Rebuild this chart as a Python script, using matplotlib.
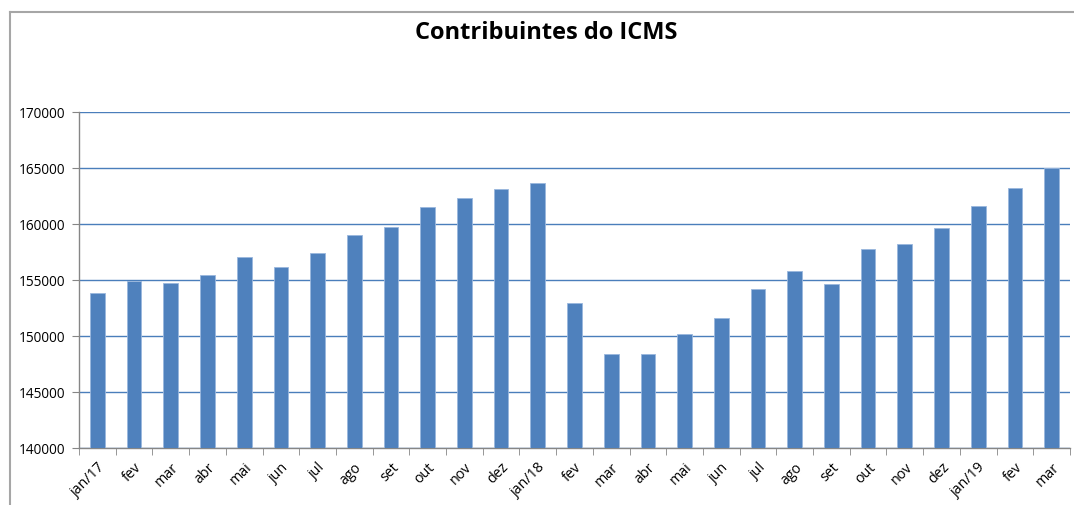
import matplotlib

matplotlib.use("Agg")
import matplotlib.pyplot as plt  # noqa: E402
from matplotlib.lines import Line2D  # noqa: E402
import numpy as np  # noqa: E402


MONTHS = [
    "jan/17", "fev", "mar", "abr", "mai", "jun", "jul", "ago", "set", "out", "nov", "dez",
    "jan/18", "fev", "mar", "abr", "mai", "jun", "jul", "ago", "set", "out", "nov", "dez",
    "jan/19", "fev", "mar",
]
CONTRIBUINTES = [
    153840, 154940, 154730, 155420, 157020, 156130, 157410, 159020, 159700, 161490, 162320, 163130,
    163660, 152950, 148360, 148390, 150210, 151610, 154170, 155770, 154630, 157770, 158180, 159640,
    161640, 163210, 164970,
]
Y_TICKS = [140000, 145000, 150000, 155000, 160000, 165000, 170000]

BAR_COLOR = "#4f81bd"
GRID_COLOR = "#4a7ebb"
AXIS_COLOR = "#868686"
BORDER_COLOR = "#a6a6a6"

plt.rcParams["font.family"] = ["Open Sans", "DejaVu Sans"]

fig = plt.figure(figsize=(10.74, 5.06), dpi=100)
ax = fig.add_axes([79 / 1074, 1 - 449 / 506, (1070 - 79) / 1074, (449 - 113) / 506])

x = np.arange(len(MONTHS))
ax.bar(x, CONTRIBUINTES, width=0.4, color=BAR_COLOR, edgecolor="#9ab7dd", linewidth=0.6, zorder=3)

ax.set_xlim(-0.5, len(MONTHS) - 0.5)
ax.set_ylim(Y_TICKS[0], Y_TICKS[-1])
ax.set_yticks(Y_TICKS)
ax.set_yticklabels([str(v) for v in Y_TICKS], fontsize=9.8)
ax.yaxis.grid(True, color=GRID_COLOR, linewidth=1.0, zorder=0)
ax.set_axisbelow(True)

ax.set_xticks(x)
ax.set_xticklabels(MONTHS, rotation=45, ha="right", rotation_mode="anchor", fontsize=10.3)
ax.set_xticks(np.arange(len(MONTHS) + 1) - 0.5, minor=True)
ax.tick_params(axis="x", which="major", length=0, pad=8)
ax.tick_params(axis="x", which="minor", length=5, color=AXIS_COLOR, direction="out")
ax.tick_params(axis="y", length=5, color=AXIS_COLOR, pad=5)

for side in ("top", "right"):
    ax.spines[side].set_visible(False)
for side in ("left", "bottom"):
    ax.spines[side].set_color(AXIS_COLOR)
    ax.spines[side].set_linewidth(1.0)

fig.text(546 / 1074, 1 - 33 / 506, "Contribuintes do ICMS", ha="center", va="center",
         fontsize=17, fontweight="bold")

# chart area border (top and left edges visible)
fig.add_artist(Line2D([10 / 1074, 1.0], [1 - 13 / 506, 1 - 13 / 506], color=BORDER_COLOR, linewidth=1.5))
fig.add_artist(Line2D([10 / 1074, 10 / 1074], [0.0, 1 - 13 / 506], color=BORDER_COLOR, linewidth=1.5))

fig.savefig("out.png", dpi=100)
